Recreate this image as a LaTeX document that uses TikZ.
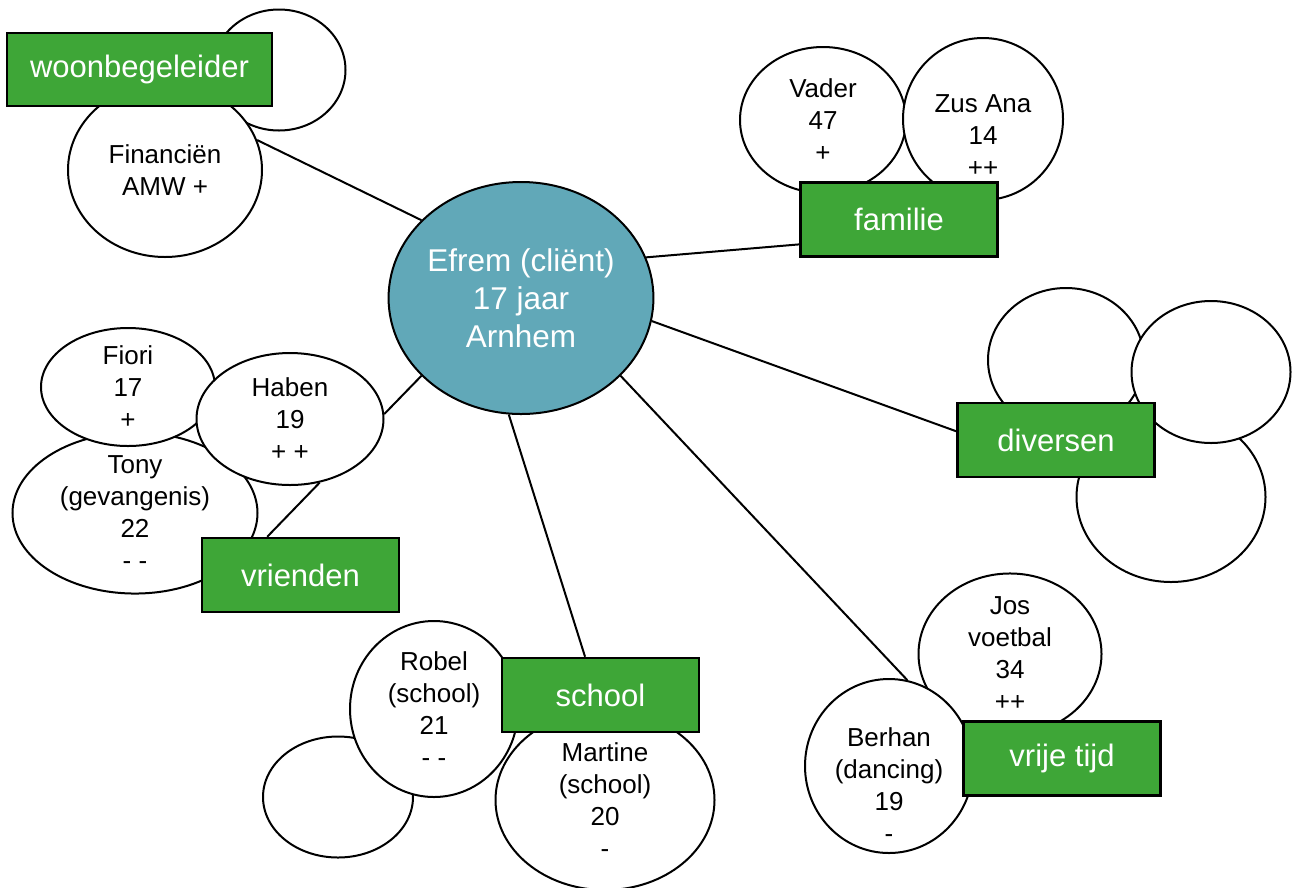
\documentclass[tikz,border=0pt]{standalone}
\usepackage{fontspec}
\setmainfont{Liberation Sans}
\usetikzlibrary{shapes.geometric}
\definecolor{kring}{RGB}{97,168,184}
\definecolor{groen}{RGB}{62,166,55}
\newcommand{\perstxt}{\fontsize{26}{32}\selectfont}
\newcommand{\groeptxt}{\fontsize{31}{37}\selectfont}
\newcommand{\kerntxt}{\fontsize{31.5}{38}\selectfont}

\begin{document}
\begin{tikzpicture}[x=1pt,y=-1pt,line width=2pt,
                    pers/.style={ellipse,draw,fill=white,inner sep=0pt,align=center,font=\perstxt},
                    groep/.style={rectangle,draw,fill=groen,line width=2.5pt,minimum width=197pt,
                                  minimum height=74pt,text=white,font=\groeptxt},
                    kern/.style={ellipse,draw,fill=kring,inner sep=0pt,text=white,align=center,font=\kerntxt}]
      \useasboundingbox (0,0) rectangle (1292,887);

      % woonbegeleider
      \node[pers,minimum width=133pt,minimum height=121pt] (wleeg) at (279,70) {};
      \node[pers,minimum width=194pt,minimum height=174pt] (fin) at (165,170) {Financiën\\AMW +};
      \node[groep,minimum width=265pt,minimum height=73pt] (woon) at (139.5,69.5) {woonbegeleider};

      % familie
      \node[pers,minimum width=166pt,minimum height=146pt] (vader) at (823,120) {Vader\\47\\+};
      \node[pers,minimum width=160pt,minimum height=162pt] (zus) at (983,119) {};
      \node[align=center,font=\perstxt] (zustxt) at (983,136) {Zus Ana\\14\\++};
      \node[groep] (familie) at (899,219.5) {familie};

      % diversen
      \node[pers,minimum width=189pt,minimum height=170pt] (div3) at (1171,497) {};
      \node[pers,minimum width=156pt,minimum height=144pt] (div1) at (1066,360) {};
      \node[pers,minimum width=159pt,minimum height=142pt] (div2) at (1211,372) {};
      \node[groep] (diversen) at (1056,440) {diversen};

      % vrienden
      \node[pers,minimum width=245pt,minimum height=148pt] (tony) at (135,513) {Tony\\(gevangenis)\\22\\- -};
      \node[pers,minimum width=174pt,minimum height=118pt] (fiori) at (128,387) {Fiori\\17\\+};
      \node[pers,minimum width=187pt,minimum height=132pt] (haben) at (290,419) {Haben\\19\\+ +};
      \node[groep] (vrienden) at (300.5,575) {vrienden};

      % school
      \node[pers,minimum width=150pt,minimum height=121pt] (sleeg) at (338,797) {};
      \node[pers,minimum width=168pt,minimum height=176pt] (robel) at (434,709) {Robel\\(school)\\21\\- -};
      \node[pers,minimum width=219pt,minimum height=180pt] (martine) at (605,800) {Martine\\(school)\\20\\-};
      \node[groep] (school) at (600.5,695) {school};

      % vrije tijd
      \node[pers,minimum width=183pt,minimum height=148pt] (jos) at (1010,654) {Jos\\voetbal\\34\\++};
      \node[pers,minimum width=168pt,minimum height=174pt] (berhan) at (889,766) {};
      \node[align=center,font=\perstxt] (berhantxt) at (889,785) {Berhan\\(dancing)\\19\\-};
      \node[groep] (vrij) at (1062,758.5) {vrije tijd};

      % client
      \node[kern,minimum width=257pt,minimum height=232pt] (efrem) at (521,298) {Efrem (cliënt)\\17 jaar\\Arnhem};

      \path
	(efrem.142) edge (fin.18)
	(efrem.18) edge (familie.194)
	(efrem.-10.5) edge (diversen.175.4)
	(efrem.-38.7) edge (berhan.78)
	(efrem.264.6) edge (school.112.7)
	(efrem.218) edge (haben.3)
	(haben.-65) edge (vrienden.131.3);
\end{tikzpicture}
\end{document}
